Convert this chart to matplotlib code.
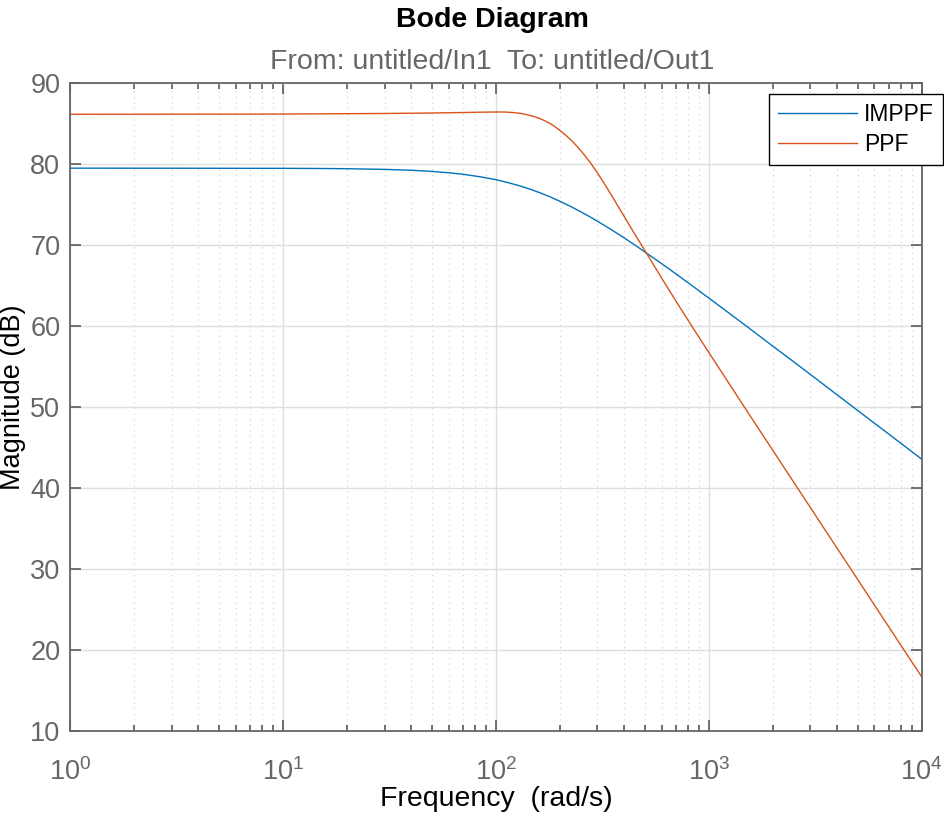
import matplotlib
matplotlib.use("Agg")
import matplotlib.pyplot as plt
from matplotlib.ticker import LogLocator, FixedLocator, NullFormatter

# ---- data ----
freq_imppf = [1, 10, 15, 20, 30, 40, 50, 60, 70, 85, 100, 115, 130, 145, 160, 180,
              200, 225, 250, 275, 300, 350, 400, 450, 500, 600, 700, 850, 1000,
              1200, 1500, 1700, 2000, 2500, 3000, 4000, 5000, 7000, 10000]
mag_imppf = [79.45, 79.43, 79.41, 79.38, 79.3, 79.19, 79.05, 78.88, 78.7, 78.37,
             78.03, 77.64, 77.25, 76.85, 76.44, 75.9, 75.36, 74.71, 74.07, 73.48,
             72.9, 71.83, 70.85, 69.95, 69.12, 67.67, 66.41, 64.79, 63.42, 61.87,
             59.96, 58.88, 57.47, 55.56, 53.98, 51.48, 49.54, 46.63, 43.52]

freq_ppf = [1, 10, 30, 50, 70, 85, 100, 110, 120, 130, 140, 150, 160, 170, 180,
            190, 200, 215, 230, 245, 260, 280, 300, 330, 360, 400, 450, 510, 600,
            700, 850, 1000, 1500, 2000, 3000, 5000, 7000, 10000]
mag_ppf = [86.1, 86.13, 86.2, 86.26, 86.32, 86.36, 86.38, 86.38, 86.32, 86.22,
           86.05, 85.85, 85.6, 85.3, 84.95, 84.55, 84.1, 83.42, 82.7, 81.92, 81.1,
           80.0, 78.86, 77.16, 75.53, 73.52, 71.27, 68.95, 65.9, 63.07, 59.57,
           56.7, 49.6, 44.6, 37.55, 28.68, 22.83, 16.65]

series_names = ["IMPPF", "PPF"]
yticks = [10, 20, 30, 40, 50, 60, 70, 80, 90]
xlim = (1, 1e4)
ylim = (10, 90)

title = "Bode Diagram"
subtitle = "From: untitled/In1  To: untitled/Out1"
xlabel = "Frequency  (rad/s)"
ylabel = "Magnitude (dB)"

# ---- style ----
plt.rcParams['font.family'] = ['Liberation Sans', 'DejaVu Sans']
plt.rcParams['mathtext.fontset'] = 'custom'
plt.rcParams['mathtext.rm'] = 'Liberation Sans'
plt.rcParams['mathtext.it'] = 'Liberation Sans'
plt.rcParams['mathtext.bf'] = 'Liberation Sans:bold'

grey = '#666666'
blue = '#0072BD'
orange = '#D95319'

W, H = 945, 816
fig = plt.figure(figsize=(W / 100, H / 100), dpi=100)
ax_l, ax_r, ax_t, ax_b = 70, 921.7, 82.7, 730.7
ax = fig.add_axes([ax_l / W, 1 - ax_b / H, (ax_r - ax_l) / W, (ax_b - ax_t) / H])

ax.plot(freq_imppf, mag_imppf, color=blue, lw=1.0, label=series_names[0])
ax.plot(freq_ppf, mag_ppf, color=orange, lw=1.0, label=series_names[1])

ax.set_xscale('log')
ax.set_xlim(*xlim)
ax.set_ylim(*ylim)
ax.yaxis.set_major_locator(FixedLocator(yticks))
ax.xaxis.set_major_locator(LogLocator(base=10, numticks=10))
ax.xaxis.set_minor_locator(LogLocator(base=10, subs=range(2, 10), numticks=100))
ax.xaxis.set_minor_formatter(NullFormatter())

ax.grid(True, which='major', color='#dedede', lw=1.0, ls='-')
ax.grid(True, which='minor', axis='x', color='#d0d0d0', lw=0.8, ls=(0, (1, 4)))
ax.set_axisbelow(True)

for s in ax.spines.values():
    s.set_color(grey)
    s.set_linewidth(1.3)

ax.tick_params(which='both', direction='in', top=True, right=True, colors=grey,
               labelsize=19.5, width=1.3)
ax.tick_params(which='major', length=8)
ax.tick_params(which='minor', length=4)
ax.tick_params(axis='y', which='major', pad=7)
ax.tick_params(axis='x', which='major', pad=20)
for lab in ax.get_xticklabels() + ax.get_yticklabels():
    lab.set_color(grey)

ax.set_xlabel(xlabel, fontsize=20.5, color='black', labelpad=0)
ax.set_ylabel(ylabel, fontsize=19.5, color='black')
ax.yaxis.label.set_verticalalignment('center')
ax.yaxis.set_label_coords((13 - ax_l) / (ax_r - ax_l), 0.514)

fig.text(492.5 / W, 1 - 20 / H, title, ha='center', va='center', fontsize=20.5,
         fontweight='bold', color='black')
fig.text(492.5 / W, 1 - 62 / H, subtitle, ha='center', va='center', fontsize=20.5,
         color=grey)

leg = ax.legend(loc='upper left', bbox_to_anchor=(769 / W, 1 - 94 / H),
                bbox_transform=fig.transFigure, borderaxespad=0,
                fontsize=16.5, frameon=True, fancybox=False,
                handlelength=3.45, labelspacing=0.3, borderpad=0.4,
                handletextpad=0.3)
leg.get_frame().set_edgecolor('black')
leg.get_frame().set_linewidth(1.0)
leg.get_frame().set_alpha(1.0)

fig.savefig('out.png', dpi=100)
